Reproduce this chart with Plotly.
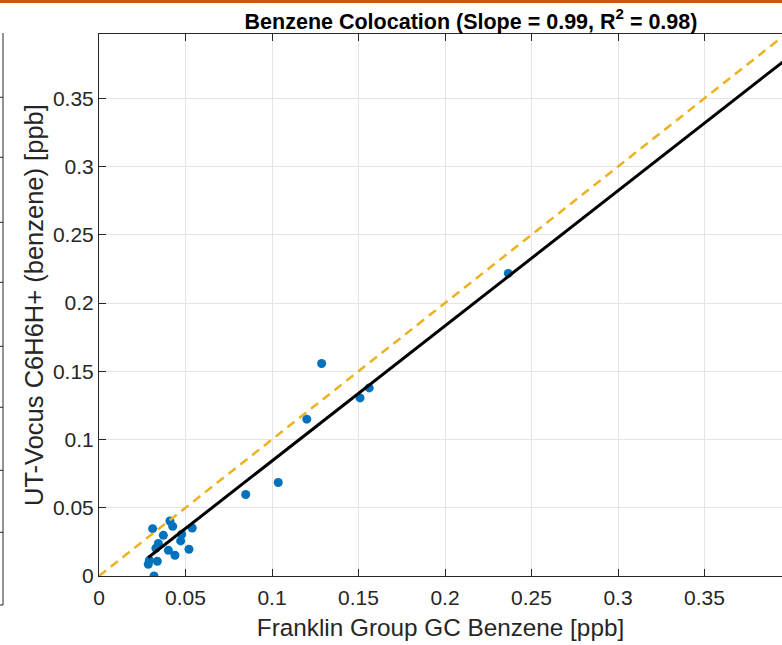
import plotly.graph_objects as go

# ---- data ----
gc_benzene = [0.2366, 0.1287, 0.1562, 0.1509, 0.1201, 0.1036, 0.0848,
              0.0310, 0.0410, 0.0426, 0.0372, 0.0539, 0.0478, 0.0472,
              0.0343, 0.0329, 0.0401, 0.0439, 0.0520, 0.0291, 0.0337,
              0.0285, 0.0318]
vocus_benzene = [0.2217, 0.1557, 0.1378, 0.1305, 0.1149, 0.0685, 0.0597,
                 0.0347, 0.0403, 0.0364, 0.0298, 0.0352, 0.0306, 0.0257,
                 0.0238, 0.0203, 0.0188, 0.0152, 0.0196, 0.0115, 0.0108,
                 0.0086, 0.0000]
fit_slope = 0.99
fit_intercept = -0.0147
line_end = 0.42
tick_vals = [0, 0.05, 0.1, 0.15, 0.2, 0.25, 0.3, 0.35]
tick_text = ["0", "0.05", "0.1", "0.15", "0.2", "0.25", "0.3", "0.35"]
x_range = [0, 0.3948]
y_range = [0, 0.3971]

fit_x = [min(gc_benzene), line_end]
fit_y = [fit_slope * v + fit_intercept for v in fit_x]
one_x = [0, line_end]
one_y = [0, line_end]

FONT = "Liberation Sans, Arial, Helvetica, sans-serif"
AX = "#262626"

fig = go.Figure()
fig.add_trace(go.Scatter(x=gc_benzene, y=vocus_benzene, mode="markers",
                         marker=dict(color="#0072BD", size=9, line=dict(width=0)),
                         showlegend=False, cliponaxis=True))
fig.add_trace(go.Scatter(x=one_x, y=one_y, mode="lines",
                         line=dict(color="#EDB120", width=2.5, dash="9px,6px"),
                         showlegend=False))
fig.add_trace(go.Scatter(x=fit_x, y=fit_y, mode="lines",
                         line=dict(color="black", width=3),
                         showlegend=False))

axis_common = dict(
    tickvals=tick_vals, ticktext=tick_text, ticks="inside", ticklen=7,
    tickcolor=AX, tickwidth=1, showline=True, linecolor=AX, linewidth=1,
    showgrid=True, gridcolor="#e4e4e4", gridwidth=1, zeroline=False,
    tickfont=dict(family=FONT, size=21, color=AX), automargin=False,
)

fig.update_layout(
    width=782, height=645,
    margin=dict(l=99, r=0, t=34, b=69, autoexpand=False),
    paper_bgcolor="white", plot_bgcolor="white",
    title=dict(text="Benzene Colocation (Slope = 0.99, R<sup>2</sup> = 0.98)",
               font=dict(family=FONT, size=21.5, color="black", weight="bold"),
               x=(471 - 99) / 683, xref="paper", xanchor="center",
               y=1 - 21 / 645, yref="container", yanchor="middle", automargin=False),
    xaxis=dict(range=x_range, mirror="ticks", ticklabelstandoff=3,
               title=dict(text="Franklin Group GC Benzene [ppb]",
                          font=dict(family=FONT, size=24.3, color=AX), standoff=10),
               **axis_common),
    yaxis=dict(range=y_range, mirror=False, **axis_common),
    annotations=[dict(text="UT-Vocus C6H6H+ (benzene) [ppb]", textangle=-90,
                      xref="paper", yref="paper", x=0, y=0.5, xshift=-65,
                      xanchor="center", yanchor="middle", showarrow=False,
                      font=dict(family=FONT, size=25.5, color=AX))],
)

# decorative elements from the cropped screenshot: orange top bar and a
# neighbouring axes edge on the left
shapes = [
    dict(type="rect", xref="paper", yref="paper", xsizemode="pixel", ysizemode="pixel",
         xanchor=0, yanchor=1, x0=-99, x1=690, y0=31, y1=34,
         fillcolor="#C55A11", line=dict(width=0), layer="above"),
    dict(type="line", xref="paper", yref="paper", xsizemode="pixel", ysizemode="pixel",
         xanchor=0, yanchor=0, x0=-96, x1=-96, y0=-29, y1=543,
         line=dict(color=AX, width=1)),
    dict(type="line", xref="paper", yref="paper", xsizemode="pixel", ysizemode="pixel",
         xanchor=0, yanchor=0, x0=-99, x1=-96, y0=-29, y1=-29,
         line=dict(color=AX, width=1)),
]
for py in [97, 157, 222, 282, 346, 407, 470, 532]:
    yy = 575.7 - py
    shapes.append(dict(type="line", xref="paper", yref="paper", xsizemode="pixel",
                       ysizemode="pixel", xanchor=0, yanchor=0, x0=-99, x1=-96,
                       y0=yy, y1=yy, line=dict(color=AX, width=1)))
fig.update_layout(shapes=shapes)

fig.write_html("out.html", config={"displayModeBar": False},
               post_script="document.body.style.margin='0px';")
